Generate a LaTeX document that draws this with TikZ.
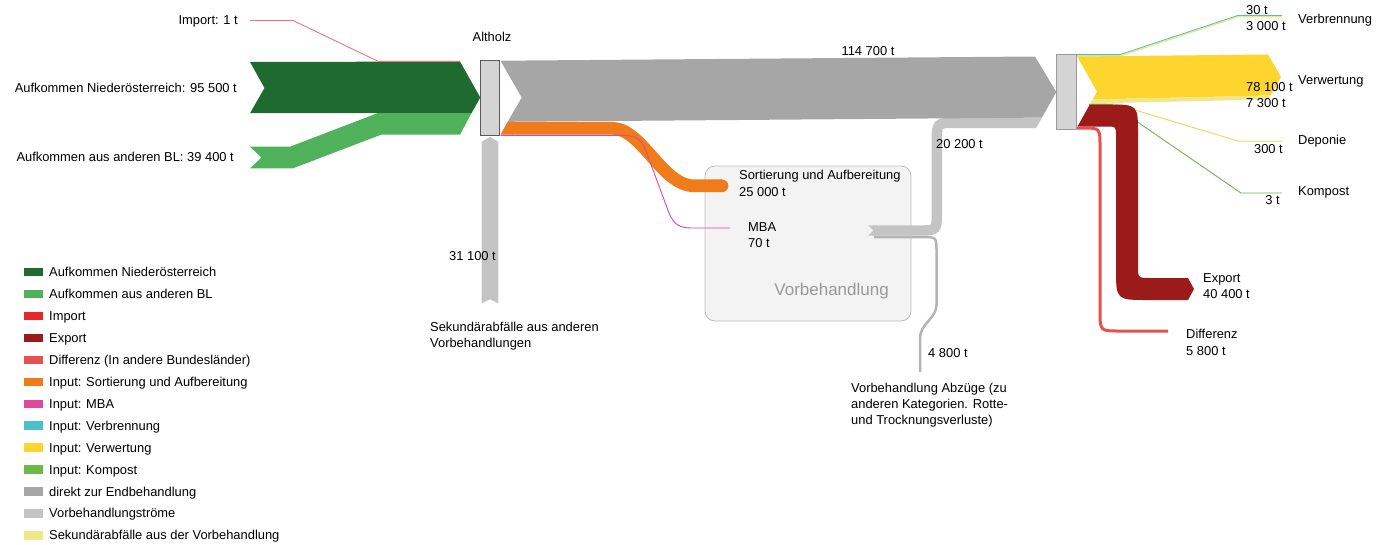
\documentclass[tikz,border=0pt]{standalone}
\usepackage{fontspec}
\setmainfont{Liberation Sans}
\definecolor{cNOE}{HTML}{1F6A2F}
\definecolor{cBL}{HTML}{4FB25B}
\definecolor{cImp}{HTML}{E8262A}
\definecolor{cExp}{HTML}{9B1A1A}
\definecolor{cDiff}{HTML}{E8504F}
\definecolor{cSort}{HTML}{EF7B1A}
\definecolor{cMBA}{HTML}{E0479A}
\definecolor{cVerb}{HTML}{4BBFCA}
\definecolor{cVerw}{HTML}{FED42E}
\definecolor{cKomp}{HTML}{6CB84A}
\definecolor{cDir}{HTML}{A6A6A6}
\definecolor{cVor}{HTML}{C4C4C4}
\definecolor{cSek}{HTML}{F0E68A}
\definecolor{cSekD}{HTML}{E8DC6A}
\definecolor{nodefill}{HTML}{D4D4D4}
\definecolor{altb}{HTML}{5A5A5A}
\definecolor{rnodeb}{HTML}{9A9A9A}
\definecolor{boxfill}{HTML}{F3F3F3}
\definecolor{boxline}{HTML}{BDBDBD}
\definecolor{vbtext}{HTML}{999999}
\begin{document}
\begin{tikzpicture}[x=1pt,y=-1pt,
  lbl/.style={inner sep=0pt, font=\fontsize{12.9}{15}\selectfont},
  procbox/.style={fill=nodefill, inner sep=0pt}]
\useasboundingbox (0,0) rectangle (1384,544);

% Vorbehandlung box
\node[draw=boxline, fill=boxfill, rounded corners=10pt, line width=0.8pt,
      minimum width=206pt, minimum height=155pt, inner sep=0pt] (vbox) at (808,243.5) {};

% inputs to Altholz
\fill[cNOE] (250,62) -- (460,61.5) -- (480.3,97.5) -- (471.5,113.2) -- (250,113.2) -- (264.5,88) -- cycle;
\fill[cBL] (250,146.7) -- (290,146.7) -- (378,113) -- (471.6,113) -- (460,134.7) -- (381,134.7) -- (293,168.3) -- (250,168.3) -- (261.5,157.5) -- cycle;
\coordinate (impS) at (250,20.5);
\coordinate (impE) at (460,61.3);
\draw[cImp!65, line width=0.9pt] (impS) -- (293,20.5) -- (378,61.3) -- (impE);
\fill[cVor] (481.7,141.7) -- (490,136.9) -- (498.3,141.7) -- (498.3,303.3) -- (490,299.3) -- (481.7,303.3) -- cycle;

% Altholz node
\node[procbox, draw=altb, line width=1.1pt, minimum width=19pt, minimum height=75pt] (alt) at (490.4,97.9) {};

% Vorbehandlung outflow 20 200 t (light gray)
\fill[cVor] (868,225.3) -- (874,225.3) -- (874,235.7) -- (868,235.7) -- (873.5,230.5) -- cycle;
\draw[cVor, line width=10.4pt] (873,230.5) -- (918,230.5) .. controls (936.8,230.5) .. (936.8,212) -- (936.8,142) .. controls (936.8,122.8) .. (956,122.8) -- (1031,122.8);
\fill[cVor] (1030,117.6) -- (1042,117.6) -- (1036.2,128) -- (1030,128) -- cycle;
% 4 800 t
\draw[cVor!92!black, line width=2.5pt] (874,237) -- (922,237) .. controls (936.5,237) .. (936.5,252) -- (936.5,305) .. controls (936.5,318) and (920,324) .. (920,338) -- (920,372);

% direkt zur Endbehandlung
\fill[cDir] (500.5,60.7) -- (1035,56.5) -- (1056.3,92) -- (1042,117.6) -- (507.7,121.8) -- (521.7,97.5) -- cycle;

% Sortierung
\fill[cSort] (500.5,134.6) -- (507.6,121.9) -- (513,121.9) -- (513,134.6) -- cycle;
\draw[cSort, line width=12.7pt] (512,128.25) -- (612,128.25) .. controls (642,128.25) and (662,185.8) .. (694,185.8) -- (722,185.8);
\fill[cSort] (722,185.8) circle (6.35pt);
% MBA
\draw[cMBA, line width=0.9pt] (500.5,135.3) -- (622,135.3) .. controls (637,135.3) and (642,140) .. (646,151) -- (669,213) .. controls (674,225) and (680,228) .. (692,228) -- (730,228);

% right node
\node[procbox, draw=rnodeb, line width=1pt, minimum width=19.3pt, minimum height=75pt] (endb) at (1066.4,91.8) {};

% Verbrennung
\draw[cSek, line width=1.6pt] (1077,55.8) -- (1120,55.8) -- (1238,16.6) -- (1282,16.6);
\draw[cVerb, line width=0.8pt] (1077,54.6) -- (1120,54.6) -- (1238,15.4) -- (1282,15.4);
% Verwertung
\fill[cVerw] (1077.2,56.5) -- (1268,54.5) -- (1281,77) -- (1270.3,95.5) -- (1092.6,99.5) -- (1097,91.7) -- cycle;
\fill[cSek] (1092.6,99.5) -- (1270.3,95.5) -- (1268,99.5) -- (1090.4,103.5) -- cycle;
% Deponie, Kompost
\draw[cSekD, line width=1pt] (1090,103.8) -- (1115,104) -- (1238,141) -- (1282,141);
\draw[cKomp, line width=0.9pt] (1089,104.3) -- (1112,104.5) -- (1241,193) -- (1282,193);
% Export
\fill[cExp] (1089.8,104.5) -- (1108,104.5) .. controls (1138,104.5) .. (1138,134.5) -- (1138,266) .. controls (1138,278) .. (1150,278) -- (1188,278) -- (1194,289) -- (1188,300) -- (1148,300) .. controls (1116,300) .. (1116,268) -- (1116,136) .. controls (1116,126.5) .. (1106.5,126.5) -- (1077.5,126.5) -- cycle;
% Differenz
\draw[cDiff, line width=3pt] (1077,128) -- (1082,128) .. controls (1100,128) .. (1100,146) -- (1100,311) .. controls (1100,331) .. (1120,331) -- (1168,331);

% labels
\node[lbl, anchor=base east] (timp) at (238,24.5) {Import: 1 t};
\node[lbl, anchor=base east] (tnoe) at (237,92.5) {Aufkommen Niederösterreich: 95 500 t};
\node[lbl, anchor=base east] (tbl) at (234,161.5) {Aufkommen aus anderen BL: 39 400 t};
\node[lbl, anchor=base] (talt) at (492,41.5) {Altholz};
\node[lbl, anchor=base] (t1147) at (868,55.5) {114 700 t};
\node[lbl, anchor=base east] (t311) at (496,260.5) {31 100 t};
\node[lbl, anchor=base west] (tsek1) at (430,331.5) {Sekundärabfälle aus anderen};
\node[lbl, anchor=base west] (tsek2) at (430,347.5) {Vorbehandlungen};
\node[lbl, anchor=base west] (tsort1) at (739,179.5) {Sortierung und Aufbereitung};
\node[lbl, anchor=base west] (tsort2) at (739,196) {25 000 t};
\node[lbl, anchor=base west] (tmba1) at (748,231) {MBA};
\node[lbl, anchor=base west] (tmba2) at (748,247.5) {70 t};
\node[inner sep=0pt, font=\fontsize{17}{20}\selectfont, text=vbtext, anchor=base east] (tvb) at (889,295) {Vorbehandlung};
\node[lbl, anchor=base west] (t202) at (936,148.5) {20 200 t};
\node[lbl, anchor=base west] (t48) at (928,357.5) {4 800 t};
\node[lbl, anchor=base west] (tab1) at (851,392.5) {Vorbehandlung Abzüge (zu};
\node[lbl, anchor=base west] (tab2) at (851,408.5) {anderen Kategorien. Rotte-};
\node[lbl, anchor=base west] (tab3) at (851,424.5) {und Trocknungsverluste)};
\node[lbl, anchor=base west] (t30) at (1246,14.5) {30 t};
\node[lbl, anchor=base west] (t3000) at (1246,30.5) {3 000 t};
\node[lbl, anchor=base west] (tverb) at (1298,23.5) {Verbrennung};
\node[lbl, anchor=base west] (t781) at (1246,91.5) {78 100 t};
\node[lbl, anchor=base west] (t73) at (1246,107.5) {7 300 t};
\node[lbl, anchor=base west] (tverw) at (1298,84.5) {Verwertung};
\node[lbl, anchor=base east] (t300) at (1283,153.5) {300 t};
\node[lbl, anchor=base west] (tdep) at (1298,144.5) {Deponie};
\node[lbl, anchor=base east] (t3) at (1280,204.5) {3 t};
\node[lbl, anchor=base west] (tkomp) at (1298,195.5) {Kompost};
\node[lbl, anchor=base west] (texp1) at (1203,282.5) {Export};
\node[lbl, anchor=base west] (texp2) at (1203,298.5) {40 400 t};
\node[lbl, anchor=base west] (tdif1) at (1186,338.5) {Differenz};
\node[lbl, anchor=base west] (tdif2) at (1186,355.5) {5 800 t};

% legend
\foreach \c/\t [count=\i from 0] in {cNOE/Aufkommen Niederösterreich, cBL/Aufkommen aus anderen BL, cImp/Import, cExp/Export, cDiff/Differenz (In andere Bundesländer), cSort/Input: Sortierung und Aufbereitung, cMBA/Input: MBA, cVerb/Input: Verbrennung, cVerw/Input: Verwertung, cKomp/Input: Kompost, cDir/direkt zur Endbehandlung, cVor/Vorbehandlungströme, cSek/Sekundärabfälle aus der Vorbehandlung} {
  \fill[\c] (24,{272+21.95*\i-4.2}) rectangle (43,{272+21.95*\i+4.2});
  \node[lbl, anchor=base west] (leg\i) at (49,{272+21.95*\i+4.5}) {\t};
}
\end{tikzpicture}
\end{document}
